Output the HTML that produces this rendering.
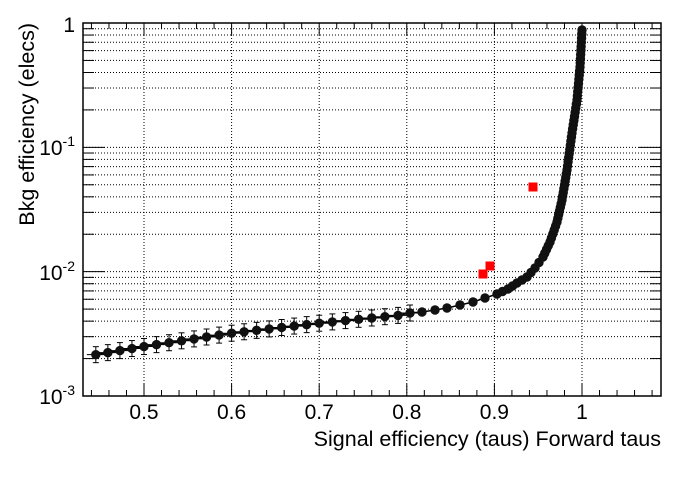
<!DOCTYPE html>
<html><head><meta charset="utf-8"><style>
body{margin:0;background:#fff}
svg text{font-family:"Liberation Sans",sans-serif;fill:#000}
</style></head><body>
<svg id="s" width="696" height="472" xmlns="http://www.w3.org/2000/svg"></svg>
<script>
const s=document.getElementById('s');
const L=83,R=661,T=23,B=396;
const X=v=>144+(v-0.5)*876;
const Y=v=>396-(Math.log10(v)+3)*124.33;
let h='';
for(let v=0.5;v<=1.001;v+=0.1){const x=X(v);h+=`<line x1="${x}" y1="${T}" x2="${x}" y2="${B}" stroke="#000" stroke-width="1" stroke-dasharray="1,2"/>`;}
for(let d=-3;d<0;d++)for(let m=1;m<10;m++){const v=m*Math.pow(10,d);if(m==1&&d==-3)continue;const y=Y(v);
h+=`<line x1="${L}" y1="${y}" x2="${R}" y2="${y}" stroke="#000" stroke-width="1" stroke-dasharray="1,2"/>`;
const len=m==1?22:11;h+=`<line x1="${L}" y1="${y}" x2="${L+len}" y2="${y}" stroke="#000"/><line x1="${R}" y1="${y}" x2="${R-len}" y2="${y}" stroke="#000"/>`;}
for(let i=0;i<=32;i++){const v=0.44+i*0.02;if(v>1.09)break;const x=X(v);const maj=Math.abs((v*10)-Math.round(v*10))<1e-6;const len=maj?12:6;
h+=`<line x1="${x}" y1="${B}" x2="${x}" y2="${B-len}" stroke="#000"/><line x1="${x}" y1="${T}" x2="${x}" y2="${T+len}" stroke="#000"/>`;}
h+=`<rect x="${L}" y="${T}" width="${R-L}" height="${B-T}" fill="none" stroke="#000" stroke-width="1.5"/>`;
const lowPts=[[0.445,2.15e-3],[0.5,2.5e-3],[0.6,3.2e-3],[0.7,3.85e-3],[0.79,4.45e-3]].map(p=>[X(p[0]),Y(p[1])]);
const upPts=[[410,313],[422,312],[435,310],[447,308],[460,305],[473,302],[485,298],[497,294],[508,289],[517,283],[527,277],[535,268],[543,257],[550,242],[557,222],[562,200],[567,170],[572,133],[577,100],[580,67],[582,30]];
const P=lowPts.concat(upPts);
h+=`<path d="M${P.map(p=>p.join(',')).join(' L')}" fill="none" stroke="#000" stroke-width="1.5"/>`;
let dots=[];let acc=0;
for(let i=0;i<P.length-1;i++){const [x1,y1]=P[i],[x2,y2]=P[i+1];const d=Math.hypot(x2-x1,y2-y1);
const step=x1<495?12.5:(x1<540?7:4);const n=Math.max(1,Math.round(d/step));for(let k=0;k<n;k++){dots.push([x1+(x2-x1)*k/n,y1+(y2-y1)*k/n,x1<420]);}}
dots.push([...P[P.length-1],false]);
for(const [x,y,big] of dots){
 if(big){h+=`<line x1="${x}" y1="${y-8}" x2="${x}" y2="${y+8}" stroke="#000"/><line x1="${x-3}" y1="${y-8}" x2="${x+3}" y2="${y-8}" stroke="#000"/><line x1="${x-3}" y1="${y+8}" x2="${x+3}" y2="${y+8}" stroke="#000"/><line x1="${x-9}" y1="${y}" x2="${x+9}" y2="${y}" stroke="#000"/>`;}
 h+=`<circle cx="${x}" cy="${y}" r="4.7" fill="#111"/>`;}
for(const [x,y] of [[533,187],[490,266],[483,274]])h+=`<rect x="${x-4.5}" y="${y-4.5}" width="9" height="9" fill="#f00"/>`;
for(let v=0.5;v<=1.001;v+=0.1){const t=Math.abs(v-1)<1e-6?'1':v.toFixed(1);h+=`<text x="${X(v)}" y="419" font-size="21" text-anchor="middle">${t}</text>`;}
h+=`<text x="75" y="32" font-size="21" text-anchor="end">1</text>`;
for(const [e,y] of [[-1,155],[-2,280],[-3,404]])h+=`<text x="75" y="${y}" font-size="21" text-anchor="end">10<tspan font-size="14" dy="-9">${e}</tspan></text>`;
h+=`<text x="661" y="446" font-size="21.5" text-anchor="end">Signal efficiency (taus) Forward taus</text>`;
h+=`<text transform="translate(34,23) rotate(-90)" font-size="21.5" text-anchor="end">Bkg efficiency (elecs)</text>`;
s.innerHTML=h;
</script>
</body></html>
